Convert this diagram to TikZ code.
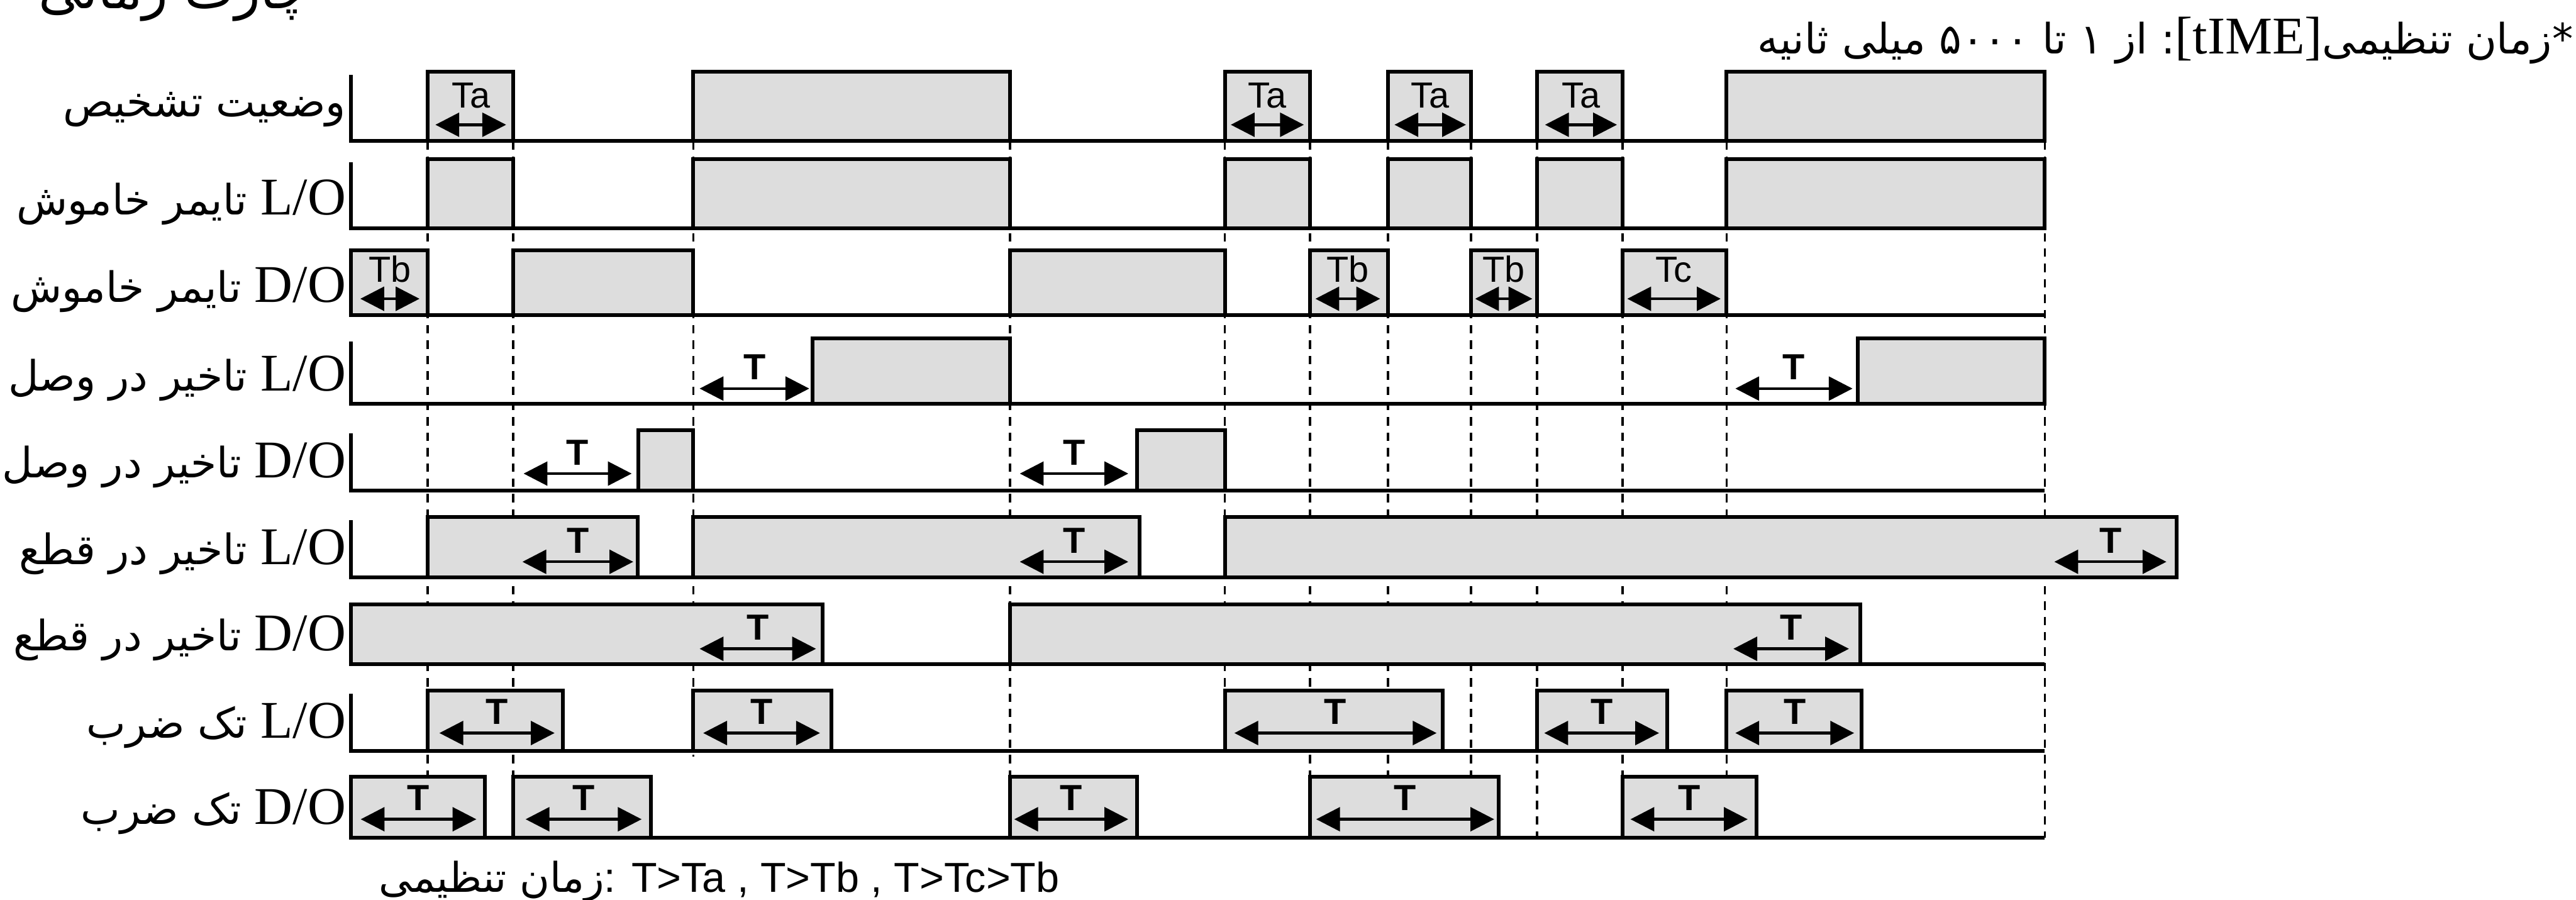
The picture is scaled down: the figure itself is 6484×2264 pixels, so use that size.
\documentclass[tikz,border=0pt]{standalone}
\usepackage{fontspec}
\setmainfont{Liberation Serif}
\setsansfont{Liberation Sans}
\newfontfamily\fa[Script=Arabic]{DejaVu Sans}
\TeXXeTstate=1
\usetikzlibrary{arrows.meta}
\definecolor{pulsegray}{RGB}{221,221,221}
\newcommand{\tagLO}{{\fontsize{19}{22}\selectfont\rmfamily\beginL L/O\endL}}
\newcommand{\tagDO}{{\fontsize{19}{22}\selectfont\rmfamily\beginL D/O\endL}}

\begin{document}
\begin{tikzpicture}[x=0.005cm, y=-0.005cm,
    pulse/.style={fill=pulsegray, draw, line width=1.35pt},
    guide/.style={dash pattern=on 3pt off 2.5pt, line width=0.8pt},
    tarrow/.style={{Triangle[length=0.3cm,width=0.3cm]}-{Triangle[length=0.3cm,width=0.3cm]}, line width=1pt},
    tag/.style={midway, anchor=base, yshift=0.21cm, inner sep=0pt, font=\sffamily\fontsize{13}{15}\selectfont},
    ttag/.style={tag, yshift=-0.1cm, font=\sffamily\bfseries\fontsize{13}{15}\selectfont},
    rowlabel/.style={anchor=base east, inner sep=0pt, font=\fontsize{15}{18}\selectfont}]
  \useasboundingbox (0,0) rectangle (6484,2264);
  % Dashed time marks.
  \foreach \x in {1076,1292,2542,3297,3494,3703,3869,4084,4346,5147}
    \draw[guide] (\x,355) -- (\x,2108);
  \draw[guide] (1745,355) -- (1745,1905);
  \draw[guide] (3083,355) -- (3083,1890);
  % Rows: baseline / height / pulses.
  \foreach \b/\h/\pulses in {
      355/174/{1076/1292,1745/2542,3083/3297,3494/3703,3869/4084,4346/5147},
      574/174/{1076/1292,1745/2542,3083/3297,3494/3703,3869/4084,4346/5147},
      793/163/{884/1076,1292/1745,2542/3083,3297/3494,3703/3869,4084/4346},
      1017/165/{2046/2542,4676/5147},
      1235/152/{1607/1745,2862/3083},
      1453/152/{1076/1605,1745/2869,3083/5479},
      1671/150/{884/2071,2542/4682},
      1890/152/{1076/1416,1745/2092,3083/3632,3869/4196,4346/4685},
      2108/153/{884/1220,1292/1639,2542/2862,3297/3772,4084/4421}} {
    \draw[line width=1.35pt] (884,\b-\h+8) -- (884,\b) -- (5147,\b);
    \foreach \xa/\xb in \pulses
      \draw[pulse] (\xa,\b) rectangle (\xb,\b-\h);
  }
  % Ta, Tb and Tc spans.
  \foreach \xa/\xb/\y/\t [count=\n] in {1096/1274/314/Ta, 3098/3282/314/Ta,
      3510/3690/314/Ta, 3889/4070/314/Ta, 907/1056/752/Tb, 3311/3474/752/Tb,
      3713/3857/752/Tb, 4096/4331/752/Tc}
    \draw[tarrow] (\xa,\y) -- (\xb,\y) node[tag] (s\n) {\t};
  % T spans.
  \foreach \xa/\xb/\y [count=\n] in {1761/2037/978, 4368/4663/978,
      1318/1590/1192, 2567/2840/1192, 1315/1594/1414, 2567/2840/1414,
      5171/5453/1414, 1761/2054/1633, 4363/4654/1633, 1106/1396/1845,
      1770/2064/1845, 3107/3616/1845, 3887/4176/1845, 4368/4667/1845,
      908/1199/2062, 1323/1615/2062, 2553/2840/2062, 3313/3761/2062,
      4104/4399/2062}
    \draw[tarrow] (\xa,\y) -- (\xb,\y) node[ttag] (t\n) {T};
  % Row names.
  \node[rowlabel] (d1) at (872,293) {\fa\beginR وضعیت تشخیص\endR};
  \node[rowlabel] (d2) at (872,541) {\fa\beginR\tagLO{} تایمر خاموش\endR};
  \node[rowlabel] (d3) at (872,760) {\fa\beginR\tagDO{} تایمر خاموش\endR};
  \node[rowlabel] (d4) at (872,984) {\fa\beginR\tagLO{} تاخیر در وصل\endR};
  \node[rowlabel] (d5) at (872,1202) {\fa\beginR\tagDO{} تاخیر در وصل\endR};
  \node[rowlabel] (d6) at (872,1420) {\fa\beginR\tagLO{} تاخیر در قطع\endR};
  \node[rowlabel] (d7) at (872,1638) {\fa\beginR\tagDO{} تاخیر در قطع\endR};
  \node[rowlabel] (d8) at (872,1857) {\fa\beginR\tagLO{} تک ضرب\endR};
  \node[rowlabel] (d9) at (872,2075) {\fa\beginR\tagDO{} تک ضرب\endR};
  % Notes.
  \node[rowlabel, font=\fontsize{19}{22}\selectfont] (title) at (780,22) {\fa\beginR چارت زمانی\endR};
  \node[rowlabel] (range) at (6478,135)
    {\fa\beginR *زمان تنظیمی{\fontsize{19}{22}\selectfont\rmfamily\beginL[tIME]\endL}: از \beginL۱\endL{} تا \beginL۵۰۰۰\endL{} میلی ثانیه\endR};
  \node[anchor=base west, inner sep=0pt, font=\sffamily\fontsize{15}{18}\selectfont] (cond) at (953,2245)
    {{\fa\fontsize{14.7}{17}\selectfont\beginR زمان تنظیمی\endR}: T>Ta , T>Tb , T>Tc>Tb};
\end{tikzpicture}
\end{document}
